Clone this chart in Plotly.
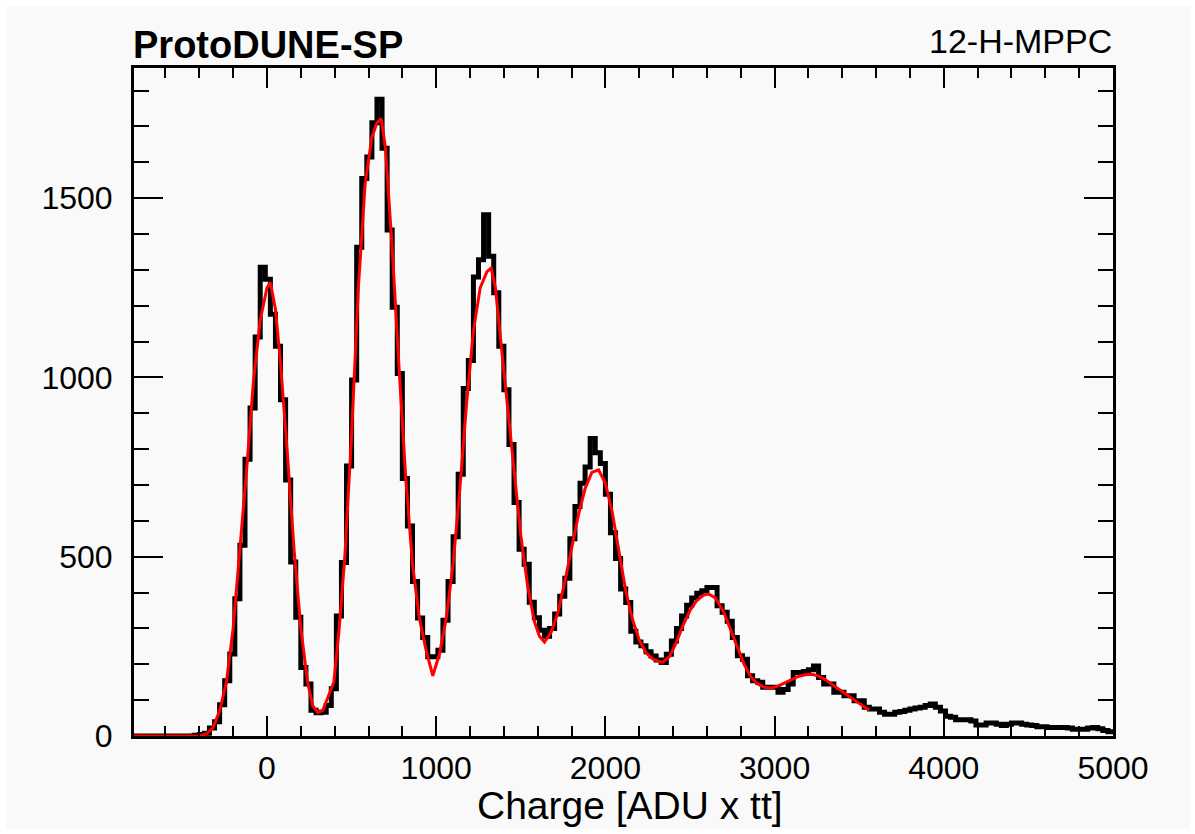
import plotly.graph_objects as go

# ---------------- data ----------------
BIN_LO = -790          # lower edge of first drawn bin
BIN_W = 30             # bin width
counts = [
    0, 0, 0, 0, 0, 0, 0, 0, 0, 0,                           # -775 .. -505
    0, 0, 2, 4, 8, 22, 40, 87, 154, 229,                    # -475 .. -205
    383, 532, 772, 915, 1113, 1307, 1274, 1176, 1087, 938,  # -175 .. 95
    714, 485, 331, 191, 145, 72, 65, 66, 85, 132,           # 125 .. 395
    335, 484, 753, 993, 1363, 1555, 1615, 1710, 1776, 1639, # 425 .. 695
    1411, 1196, 1011, 718, 586, 431, 329, 275, 221, 221,    # 725 .. 995
    239, 323, 431, 556, 730, 969, 1047, 1280, 1328, 1454,   # 1025 .. 1295
    1338, 1236, 1087, 966, 813, 651, 521, 479, 373, 330,    # 1325 .. 1595
    295, 278, 300, 340, 390, 440, 550, 640, 705, 750,       # 1625 .. 1895
    830, 790, 760, 674, 567, 495, 410, 372, 292, 262,       # 1925 .. 2195
    252, 235, 223, 212, 205, 228, 265, 300, 335, 365,       # 2225 .. 2495
    385, 398, 405, 414, 414, 363, 345, 320, 275, 224,       # 2525 .. 2795
    214, 168, 154, 150, 136, 136, 136, 122, 130, 145,       # 2825 .. 3095
    177, 177, 180, 185, 195, 163, 145, 145, 122, 122,       # 3125 .. 3395
    112, 112, 98, 98, 80, 75, 75, 66, 61, 61,               # 3425 .. 3695
    66, 68, 72, 75, 78, 80, 85, 89, 80, 70,                 # 3725 .. 3995
    55, 52, 45, 45, 45, 42, 31, 31, 36, 36,                 # 4025 .. 4295
    33, 29, 33, 36, 36, 33, 31, 29, 26, 26,                 # 4325 .. 4595
    24, 24, 24, 24, 22, 19, 19, 19, 22, 24,                 # 4625 .. 4895
    20, 15, 12,                                             # 4925 .. 4985
]

fit_x = [-786, -440, -400, -360, -320, -280, -240, -200, -160, -120,
         -80, -40, 0, 20, 50, 80, 120, 160, 200, 240,
         270, 300, 330, 360, 395, 425, 460, 500, 540, 580,
         620, 650, 675, 700, 740, 780, 820, 860, 900, 940,
         980, 1020, 1060, 1100, 1140, 1180, 1220, 1260, 1300, 1325,
         1350, 1380, 1420, 1460, 1500, 1540, 1580, 1610, 1640, 1680,
         1720, 1760, 1800, 1840, 1880, 1920, 1960, 2000, 2040, 2080,
         2120, 2160, 2200, 2240, 2280, 2320, 2340, 2380, 2420, 2460,
         2500, 2540, 2580, 2610, 2650, 2700, 2740, 2780, 2820, 2860,
         2900, 2940, 2980, 3020, 3060, 3100, 3140, 3180, 3220, 3260,
         3300, 3340, 3380, 3420, 3460, 3500, 3540, 3560]
fit_y = [0, 0, 1, 5, 22, 70, 150, 300, 518, 745,
         990, 1160, 1250, 1265, 1190, 1040, 790, 520, 300, 150,
         85, 65, 72, 110, 150, 290, 500, 840, 1250, 1540,
         1670, 1710, 1722, 1640, 1360, 1030, 720, 480, 330, 240,
         168, 230, 330, 480, 690, 930, 1130, 1250, 1295, 1305,
         1250, 1110, 920, 730, 560, 420, 320, 278, 262, 290,
         345, 430, 525, 615, 690, 735, 742, 705, 625, 515,
         405, 325, 268, 232, 215, 207, 206, 222, 262, 310,
         350, 378, 393, 396, 385, 345, 295, 245, 200, 165,
         145, 136, 134, 139, 148, 158, 166, 171, 172, 167,
         157, 144, 130, 117, 104, 91, 78, 72]

x_ticks = [0, 1000, 2000, 3000, 4000, 5000]
y_ticks = [0, 500, 1000, 1500]
X_RANGE = [-786, 5000]
Y_RANGE = [0, 1863]

title_left = "ProtoDUNE-SP"
title_right = "12-H-MPPC"
x_title = "Charge [ADU x tt]"

# ---------------- figure ----------------
edges = [BIN_LO + BIN_W * i for i in range(len(counts) + 1)]
step_y = counts + [counts[-1]]

FONT = "Liberation Sans, Arial, Helvetica, sans-serif"
W, H = 1195, 834
L, R, T, B = 134, 82, 68, 98
pw, ph = W - L - R, H - T - B


def px2paper_x(px):
    return (px - L) / pw


def px2paper_y(py):
    return (H - B - py) / ph


fig = go.Figure()
fig.add_trace(go.Scatter(x=edges, y=step_y, mode="lines", line_shape="hv",
                         line=dict(color="black", width=5), hoverinfo="skip",
                         showlegend=False))
fig.add_trace(go.Scatter(x=fit_x, y=fit_y, mode="lines",
                         line=dict(color="#ff0000", width=3), hoverinfo="skip",
                         showlegend=False))

axis_common = dict(showgrid=False, zeroline=False, showline=True, linecolor="black",
                   linewidth=3, mirror="allticks", ticks="inside", tickcolor="black",
                   tickwidth=1.5, tickfont=dict(family=FONT, size=32, color="black"))

fig.update_xaxes(range=X_RANGE, tickvals=x_ticks, ticklen=20, ticklabelstandoff=2,
                 minor=dict(dtick=200, tick0=0, ticks="inside", ticklen=10,
                            tickcolor="black", tickwidth=1.5),
                 **axis_common)
fig.update_yaxes(range=Y_RANGE, tickvals=y_ticks, ticklen=29, ticklabelstandoff=12,
                 minor=dict(dtick=100, tick0=0, ticks="inside", ticklen=15,
                            tickcolor="black", tickwidth=1.5),
                 **axis_common)

fig.add_annotation(text="<b>" + title_left + "</b>", xref="paper", yref="paper",
                   x=px2paper_x(131), y=px2paper_y(45), xanchor="left", yanchor="middle",
                   showarrow=False, font=dict(family=FONT, size=38, color="black"))
fig.add_annotation(text=title_right, xref="paper", yref="paper",
                   x=px2paper_x(1114), y=px2paper_y(41), xanchor="right", yanchor="middle",
                   showarrow=False, font=dict(family=FONT, size=34, color="black"))
fig.add_annotation(text=x_title, xref="paper", yref="paper",
                   x=px2paper_x(630), y=px2paper_y(805), xanchor="center", yanchor="middle",
                   showarrow=False, font=dict(family=FONT, size=39, color="black"))

fig.add_shape(type="rect", xref="paper", yref="paper", layer="below",
              x0=px2paper_x(6), x1=px2paper_x(1190), y0=px2paper_y(829), y1=px2paper_y(6),
              fillcolor="#f9f9f9", line=dict(width=0))

fig.update_layout(width=W, height=H, margin=dict(l=L, r=R, t=T, b=B, pad=0),
                  paper_bgcolor="white", plot_bgcolor="rgba(0,0,0,0)",
                  showlegend=False)

fig.write_html("out.html")
